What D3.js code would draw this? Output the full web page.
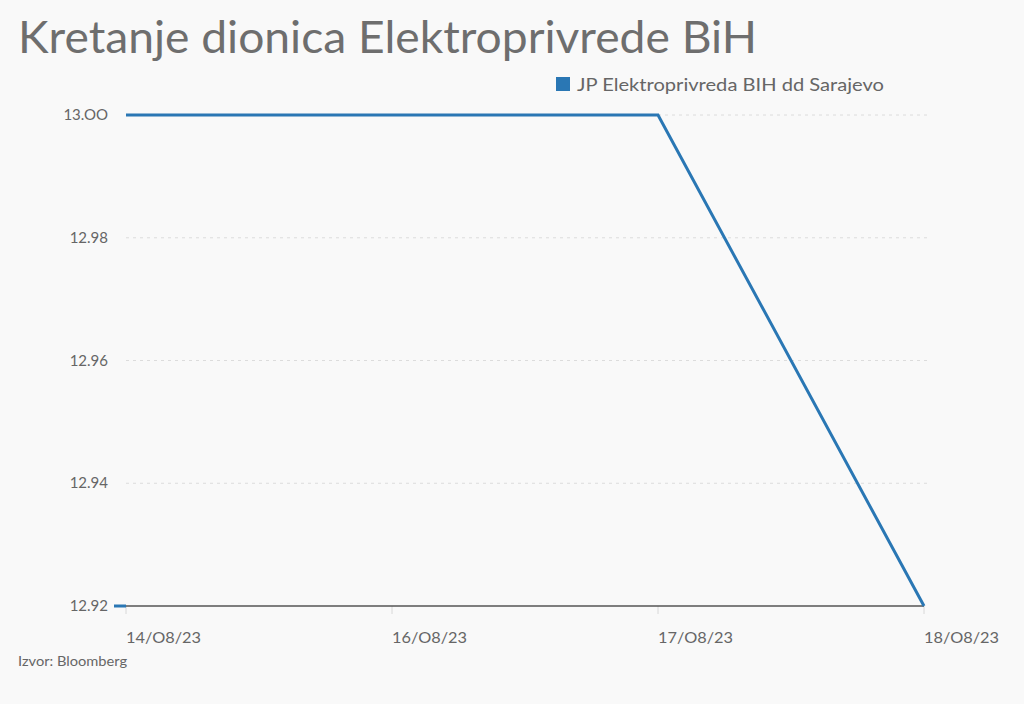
<!DOCTYPE html>
<html><head><meta charset="utf-8">
<script src="https://cdn.jsdelivr.net/npm/d3@7"></script>
<style>
html,body{margin:0;padding:0;background:#f9f9f9;}
svg{display:block;font-family:Lato,"Noto Sans",sans-serif;}
</style></head>
<body>
<svg id="c" width="1024" height="704"></svg>
<script>
const categories = ["14/08/23","16/08/23","17/08/23","18/08/23"];
const seriesName = "JP Elektroprivreda BIH dd Sarajevo";
const values = [13.00, 13.00, 13.00, 12.92];
const yTicks = [12.92, 12.94, 12.96, 12.98, 13.00];
const tickLabels = categories.map(d => d.replace(/0/g, "O"));

const svg = d3.select("#c");
const W = 1024, H = 704;
const margin = {left:126, right:100, top:115, bottom:98};
const x = d3.scalePoint().domain(categories).range([margin.left, W - margin.right]);
const y = d3.scaleLinear().domain([12.92, 13.00]).range([H - margin.bottom, margin.top]);
const color = "#2a77b4";

svg.append("rect").attr("width", W).attr("height", H).attr("fill", "#f9f9f9");

svg.append("text").attr("x", 18).attr("y", 53)
  .attr("font-size", 44).attr("fill", "#6e6e6e")
  .attr("textLength", 739).attr("lengthAdjust", "spacingAndGlyphs")
  .text("Kretanje dionica Elektroprivrede BiH");

// grid
svg.append("g").selectAll("line").data(yTicks.filter(t => t > 12.92)).join("line")
  .attr("x1", margin.left).attr("x2", W - margin.right + 4)
  .attr("y1", d => y(d)).attr("y2", d => y(d))
  .attr("stroke", "#dcdcdc").attr("stroke-width", 1).attr("stroke-dasharray", "3,4");

// y labels
svg.append("g").selectAll("text").data(yTicks).join("text")
  .attr("x", 108).attr("y", d => y(d) + 5).attr("text-anchor", "end")
  .attr("font-size", 15).attr("fill", "#666").text(d => d.toFixed(2).replace(/0/g, "O"));

// x ticks
svg.append("g").selectAll("line").data(categories).join("line")
  .attr("x1", d => x(d)).attr("x2", d => x(d))
  .attr("y1", y(12.92)).attr("y2", y(12.92) + 8)
  .attr("stroke", "#d8d8d8").attr("stroke-width", 1);

// baseline
svg.append("line").attr("x1", x(categories[0])).attr("x2", x(categories[3]))
  .attr("y1", y(12.92)).attr("y2", y(12.92)).attr("stroke", "#555").attr("stroke-width", 1.5);

// x labels
svg.append("g").selectAll("text").data(categories).join("text")
  .attr("x", d => x(d)).attr("y", y(12.92) + 37)
  .attr("font-size", 15.5).attr("fill", "#666")
  .attr("textLength", 75).attr("lengthAdjust", "spacingAndGlyphs")
  .text((d,i) => tickLabels[i]);

// small blue baseline tick
svg.append("line").attr("x1", x(categories[0]) - 12).attr("x2", x(categories[0]))
  .attr("y1", y(12.92)).attr("y2", y(12.92)).attr("stroke", color).attr("stroke-width", 3);

// series
const line = d3.line().x((d,i) => x(categories[i])).y(d => y(d));
svg.append("path").datum(values).attr("d", line)
  .attr("fill", "none").attr("stroke", color).attr("stroke-width", 3).attr("stroke-linejoin", "miter");

// legend
svg.append("rect").attr("x", 556).attr("y", 77).attr("width", 14).attr("height", 14).attr("fill", color);
svg.append("text").attr("x", 577).attr("y", 91).attr("font-size", 18).attr("fill", "#666")
  .attr("textLength", 307).attr("lengthAdjust", "spacingAndGlyphs").text(seriesName);

// source
svg.append("text").attr("x", 18).attr("y", 666).attr("font-size", 13).attr("fill", "#666")
  .attr("textLength", 109).attr("lengthAdjust", "spacingAndGlyphs").text("Izvor: Bloomberg");
</script>
</body></html>
